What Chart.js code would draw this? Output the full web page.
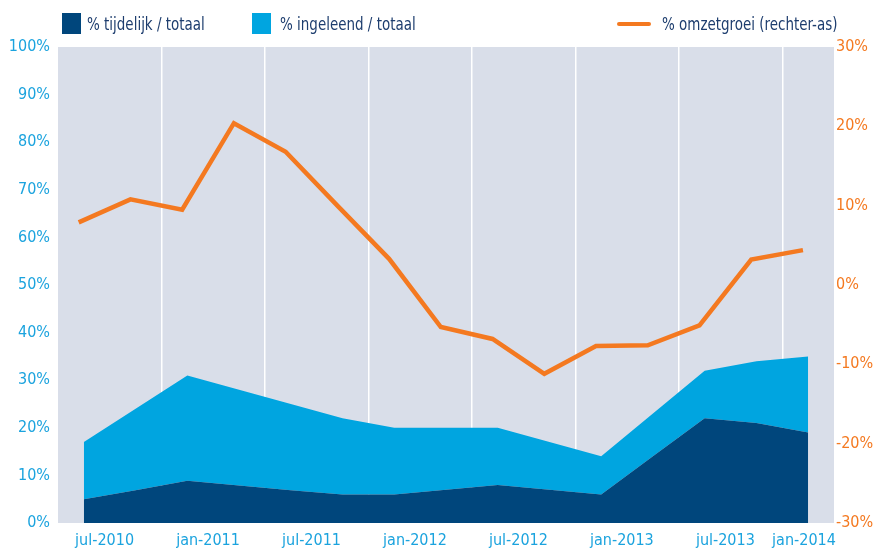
<!DOCTYPE html>
<html>
<head>
<meta charset="utf-8">
<script src="https://cdn.jsdelivr.net/npm/chart.js@4/dist/chart.umd.min.js"></script>
<style>
  html, body { margin: 0; padding: 0; background: #ffffff; }
  #wrap { position: relative; width: 873px; height: 551px; overflow: hidden; }
  #c { position: absolute; left: 0; top: 0; }
  .lg { position: absolute; font-family: 'Liberation Sans Narrow', 'DejaVu Sans Condensed', 'Roboto', sans-serif; font-size: 17px; color: #1d3d6e; white-space: nowrap; line-height: 20px; transform: scaleX(0.88); transform-origin: 0 50%; }
  .sw { position: absolute; }
</style>
</head>
<body>
<div id="wrap">
  <canvas id="c" width="873" height="551"></canvas>
  <div class="sw" style="left:62px;top:13px;width:19px;height:21px;background:#00467c;"></div>
  <div class="lg" style="left:87px;top:14px;">% tijdelijk / totaal</div>
  <div class="sw" style="left:252px;top:13px;width:19px;height:21px;background:#00a5e0;"></div>
  <div class="lg" style="left:280px;top:14px;">% ingeleend / totaal</div>
  <div class="sw" style="left:617px;top:22px;width:34px;height:4px;background:#f47920;border-radius:2px;"></div>
  <div class="lg" style="left:662px;top:14px;">% omzetgroei (rechter-as)</div>
</div>
<script>
// Quarterly categories
const categories = ['jul-2010','okt-2010','jan-2011','apr-2011','jul-2011','okt-2011','jan-2012','apr-2012','jul-2012','okt-2012','jan-2013','apr-2013','jul-2013','okt-2013','jan-2014'];
// % tijdelijk / totaal (left axis)
const tijdelijk = [5.0, 6.9, 8.9, 7.9, 6.9, 6.0, 6.0, 7.0, 8.0, 7.0, 6.0, 14.0, 22.0, 21.0, 19.0];
// % ingeleend / totaal (stacked on top of tijdelijk, left axis)
const ingeleend = [12.0, 17.1, 22.1, 20.1, 18.1, 16.0, 14.0, 13.0, 12.0, 10.0, 8.0, 9.0, 10.0, 13.0, 16.0];
// % omzetgroei (right axis)
const omzetgroei = [7.9, 10.8, 9.5, 20.4, 16.8, 10.0, 3.3, -5.3, -6.8, -11.2, -7.7, -7.6, -5.1, 3.2, 4.4];
// Axis tick labels
const xTickLabels = ['jul-2010','jan-2011','jul-2011','jan-2012','jul-2012','jan-2013','jul-2013','jan-2014'];
const leftTicks = [0,10,20,30,40,50,60,70,80,90,100];
const rightTicks = [-30,-20,-10,0,10,20,30];

const FONT = "'Liberation Sans Narrow', 'DejaVu Sans Condensed', 'Roboto', sans-serif";
const toXY = (arr, off) => arr.map((v, i) => ({ x: i + off, y: v }));

// label positions: each shown category index, nudged as in the original
const labelPos = xTickLabels.map(l => {
  const i = categories.indexOf(l);
  return i === categories.length - 1 ? i + 0.42 : i + 0.9;
});

const bgPlugin = {
  id: 'bg',
  beforeDraw(chart) {
    const a = chart.chartArea, ctx = chart.ctx;
    ctx.save();
    ctx.fillStyle = '#d9dee9';
    ctx.fillRect(a.left, a.top, a.right - a.left, a.bottom - a.top);
    ctx.restore();
  }
};

new Chart(document.getElementById('c'), {
  type: 'line',
  data: {
    datasets: [
      {
        label: '% tijdelijk / totaal',
        data: toXY(tijdelijk, 0.5),
        yAxisID: 'y', xAxisID: 'x',
        backgroundColor: '#00467c', borderWidth: 0, pointRadius: 0,
        fill: 'origin', tension: 0, stack: 's'
      },
      {
        label: '% ingeleend / totaal',
        data: toXY(ingeleend, 0.5),
        yAxisID: 'y', xAxisID: 'x',
        backgroundColor: '#00a5e0', borderWidth: 0, pointRadius: 0,
        fill: '-1', tension: 0, stack: 's'
      },
      {
        label: '% omzetgroei (rechter-as)',
        data: toXY(omzetgroei, 0.4),
        yAxisID: 'y2', xAxisID: 'x',
        borderColor: '#f47920', borderWidth: 4.5, pointRadius: 0,
        fill: false, tension: 0, order: -1,
        borderCapStyle: 'butt', borderJoinStyle: 'miter'
      }
    ]
  },
  options: {
    responsive: false,
    animation: false,
    devicePixelRatio: 1,
    layout: { padding: { top: 47, left: 0, right: 0, bottom: 0 } },
    plugins: { legend: { display: false }, tooltip: { enabled: false } },
    scales: {
      x: {
        type: 'linear', position: 'bottom', min: 0, max: categories.length,
        grid: { display: false, drawTicks: false },
        border: { display: false },
        afterBuildTicks: s => { s.ticks = labelPos.map(v => ({ value: v })); },
        afterFit: s => { s.height = 28; },
        ticks: {
          autoSkip: false, maxRotation: 0, padding: 8,
          color: '#1ba3de', font: { family: FONT, size: 16 },
          callback: (v, i) => xTickLabels[i]
        }
      },
      xg: {
        type: 'linear', position: 'bottom', min: 0, max: categories.length,
        grid: { display: true, color: '#ffffff', lineWidth: 1.5, drawTicks: false },
        border: { display: false },
        afterBuildTicks: s => {
          const t = [];
          for (let i = 2; i < categories.length; i += 2) t.push({ value: i });
          s.ticks = t;
        },
        afterFit: s => { s.height = 0; },
        ticks: { display: false }
      },
      y: {
        type: 'linear', position: 'left', min: 0, max: 100, stacked: true,
        grid: { display: false, drawTicks: false },
        border: { display: false },
        afterBuildTicks: s => { s.ticks = leftTicks.map(v => ({ value: v })); },
        afterFit: s => { s.width = 58; },
        ticks: { padding: 8, color: '#1ba3de', font: { family: FONT, size: 16 }, callback: v => v + '%' }
      },
      y2: {
        type: 'linear', position: 'right', min: -30, max: 30,
        grid: { display: false, drawTicks: false },
        border: { display: false },
        afterBuildTicks: s => { s.ticks = rightTicks.map(v => ({ value: v })); },
        afterFit: s => { s.width = 39; },
        ticks: { padding: 2, color: '#f47920', font: { family: FONT, size: 16 }, callback: v => v + '%' }
      }
    }
  },
  plugins: [bgPlugin]
});
</script>
</body>
</html>
